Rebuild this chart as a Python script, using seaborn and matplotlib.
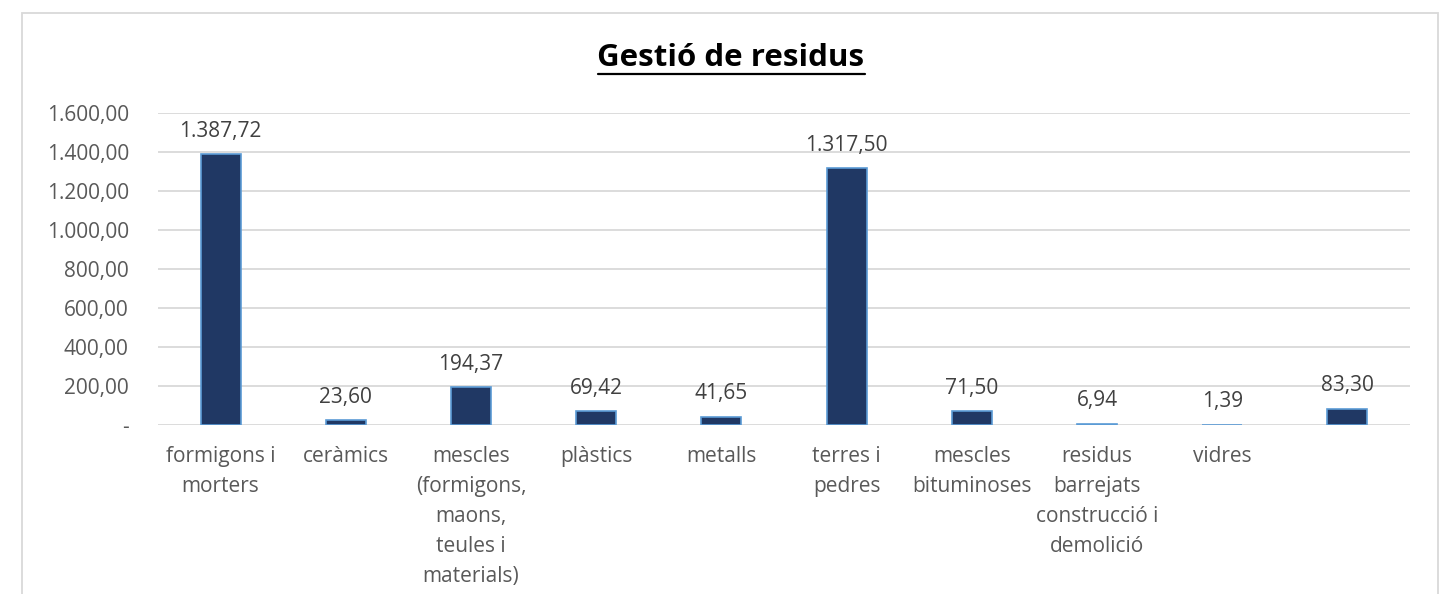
import matplotlib
matplotlib.use("Agg")
import matplotlib.pyplot as plt
from matplotlib.patches import Rectangle
from matplotlib.ticker import FuncFormatter
import seaborn as sns
import pandas as pd

# Waste categories and managed quantities
categories = [
    "formigons i\nmorters",
    "ceràmics",
    "mescles\n(formigons,\nmaons,\nteules i\nmaterials)",
    "plàstics",
    "metalls",
    "terres i\npedres",
    "mescles\nbituminoses",
    "residus\nbarrejats\nconstrucció i\ndemolició",
    "vidres",
    "",
]
values = [1387.72, 23.60, 194.37, 69.42, 41.65, 1317.50, 71.50, 6.94, 1.39, 83.30]
y_ticks = [0, 200, 400, 600, 800, 1000, 1200, 1400, 1600]
title = "Gestió de residus"


def ca_number(v):
    """Format with '.' as thousands separator and ',' as decimal mark."""
    s = f"{v:,.2f}"
    return s.replace(",", "X").replace(".", ",").replace("X", ".")


def tick_fmt(v, _pos):
    return "-" if abs(v) < 1e-9 else ca_number(v)


sns.set_theme(style="white")
plt.rcParams["font.family"] = ["Open Sans", "DejaVu Sans"]

df = pd.DataFrame({"cat": [f"c{i}" for i in range(len(categories))], "val": values})

fig = plt.figure(figsize=(14.45, 5.94), dpi=100)
ax = fig.add_axes([158 / 1445, 1 - 425 / 594, (1410 - 158) / 1445, (425 - 113) / 594])

sns.barplot(data=df, x="cat", y="val", ax=ax, color="#203864", width=0.32,
            edgecolor="#5B9BD5", linewidth=1.2, saturation=1)

ax.set_ylim(0, 1600)
ax.set_yticks(y_ticks)
ax.yaxis.set_major_formatter(FuncFormatter(tick_fmt))
ax.set_xlim(-0.5, len(categories) - 0.5)
ax.set_xticks(range(len(categories)))
ax.set_xticklabels(categories, linespacing=1.57)
ax.set_xlabel("")
ax.set_ylabel("")

ax.grid(axis="y", color="#D9D9D9", linewidth=1.3)
ax.set_axisbelow(True)
for s in ax.spines.values():
    s.set_visible(False)
ax.tick_params(axis="both", length=0, labelsize=15, labelcolor="#595959")
ax.tick_params(axis="x", pad=15)
ax.tick_params(axis="y", pad=21)

ax.bar_label(ax.containers[0], labels=[ca_number(v) for v in values],
             padding=9, fontsize=15, color="#404040")

fig.text(731 / 1445, 1 - 66 / 594, title, ha="center", va="baseline",
         fontsize=22.5, fontweight="bold", color="#000000")
# underline under the title
fig.add_artist(plt.Line2D([598 / 1445, 865 / 1445], [1 - 73.5 / 594, 1 - 73.5 / 594],
                          transform=fig.transFigure, color="#000000", linewidth=1.6))

# chart frame
fig.add_artist(Rectangle((22 / 1445, -0.1), (1438 - 22) / 1445, 1.1 - 13 / 594,
                         transform=fig.transFigure, fill=False,
                         edgecolor="#D9D9D9", linewidth=1.3, clip_on=False))

fig.savefig("out.png", dpi=100)
